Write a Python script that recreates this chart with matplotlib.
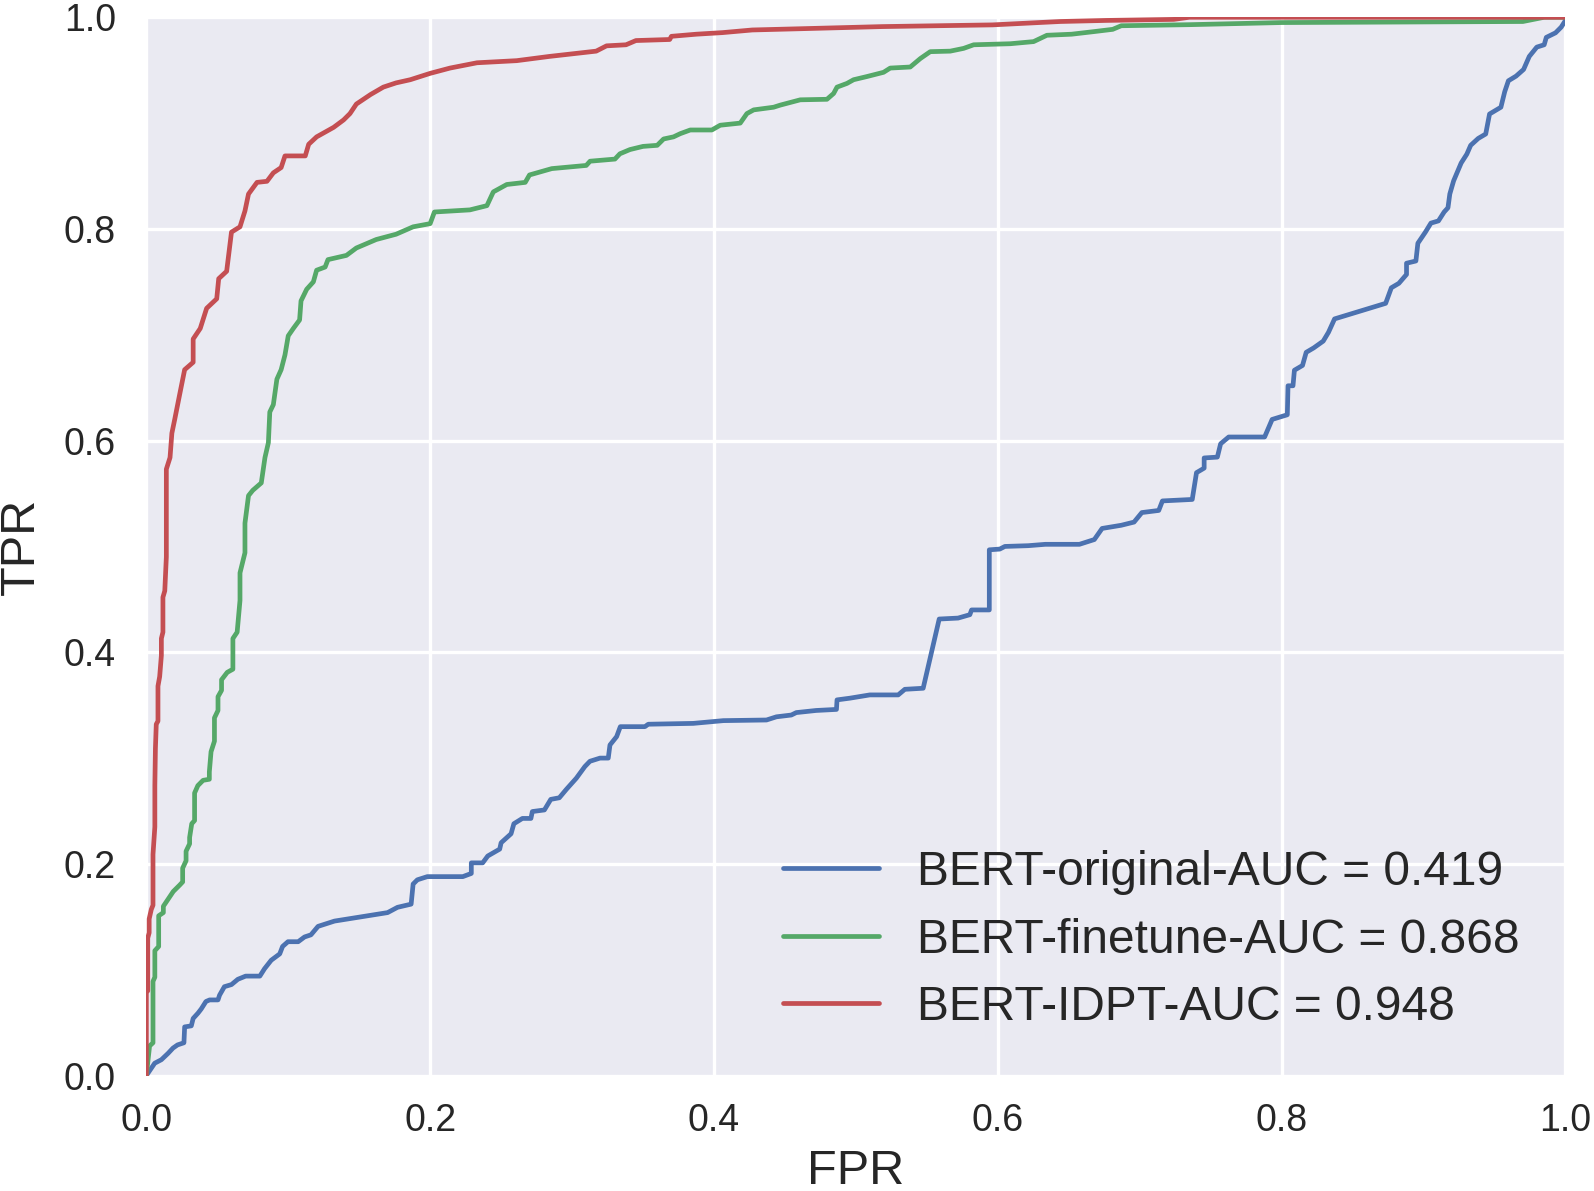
import matplotlib
matplotlib.use("Agg")
import matplotlib.pyplot as plt
import seaborn as sns

sns.set_style("darkgrid")
plt.rcParams['font.family'] = ['Liberation Sans', 'DejaVu Sans']

labels = ["BERT-original-AUC = 0.419", "BERT-finetune-AUC = 0.868", "BERT-IDPT-AUC = 0.948"]
colors = ["#4C72B0", "#55A868", "#C44E52"]

fpr_original = [0, 0.0059, 0.0106, 0.0153, 0.0188, 0.022, 0.0265, 0.027, 0.0317, 0.033, 0.0364, 0.0387, 0.042,
                0.0446, 0.0505, 0.0516, 0.055, 0.060, 0.0645, 0.070, 0.080, 0.0833, 0.088, 0.094, 0.096, 0.0998,
                0.107, 0.1115, 0.116, 0.121, 0.1256, 0.1326, 0.170, 0.177, 0.1866, 0.188, 0.191, 0.198, 0.223,
                0.229, 0.229, 0.237, 0.2406, 0.249, 0.25, 0.257, 0.259, 0.265, 0.271, 0.272, 0.2805, 0.285, 0.291,
                0.296, 0.303, 0.309, 0.3126, 0.3197, 0.3255, 0.3267, 0.3314, 0.334, 0.3513, 0.3537, 0.3854, 0.4066,
                0.437, 0.444, 0.4545, 0.458, 0.472, 0.4863, 0.4867, 0.4957, 0.5098, 0.5298, 0.5345, 0.5474, 0.5587,
                0.572, 0.5803, 0.5815, 0.594, 0.594, 0.6014, 0.605, 0.6214, 0.6335, 0.6575, 0.668, 0.6735, 0.687,
                0.696, 0.7015, 0.7134, 0.716, 0.737, 0.740, 0.7454, 0.7454, 0.7547, 0.757, 0.7627, 0.788, 0.7933,
                0.804, 0.8045, 0.808, 0.809, 0.8147, 0.8173, 0.8226, 0.8293, 0.833, 0.8373, 0.8733, 0.8773, 0.8826,
                0.888, 0.888, 0.8946, 0.896, 0.9013, 0.9052, 0.9105, 0.9145, 0.9172, 0.9185, 0.9212, 0.9239, 0.9265,
                0.9305, 0.9332, 0.9385, 0.9438, 0.9465, 0.9545, 0.9572, 0.9598, 0.9652, 0.9705, 0.9745, 0.9798,
                0.985, 0.9865, 0.993, 0.997, 1.0, 1.0]
tpr_original = [0, 0.0117, 0.015, 0.021, 0.026, 0.029, 0.031, 0.046, 0.047, 0.054, 0.059, 0.063, 0.070,
                0.0715, 0.0715, 0.076, 0.084, 0.086, 0.091, 0.094, 0.094, 0.101, 0.109, 0.115, 0.122, 0.1265,
                0.1265, 0.131, 0.133, 0.141, 0.143, 0.146, 0.154, 0.159, 0.162, 0.181, 0.185, 0.188, 0.188,
                0.191, 0.201, 0.201, 0.2075, 0.214, 0.22, 0.2285, 0.238, 0.243, 0.243, 0.2495, 0.251, 0.261, 0.2625,
                0.2705, 0.281, 0.292, 0.297, 0.300, 0.300, 0.3124, 0.3203, 0.3297, 0.3297, 0.332, 0.3328, 0.3354,
                0.336, 0.339, 0.3407, 0.343, 0.345, 0.346, 0.355, 0.3566, 0.3597, 0.3597, 0.365, 0.366, 0.4314,
                0.4323, 0.4355, 0.440, 0.440, 0.4968, 0.4975, 0.500, 0.5007, 0.502, 0.502, 0.5065, 0.517, 0.520,
                0.523, 0.532, 0.534, 0.543, 0.5444, 0.5697, 0.574, 0.5836, 0.5844, 0.597, 0.6034, 0.6034, 0.620,
                0.6244, 0.6518, 0.6518, 0.6665, 0.671, 0.6834, 0.6876, 0.694, 0.7023, 0.715, 0.7297, 0.7444, 0.7486,
                0.757, 0.7676, 0.7697, 0.7865, 0.797, 0.8055, 0.8076, 0.816, 0.820, 0.833, 0.8455, 0.854, 0.8623,
                0.8707, 0.879, 0.8855, 0.8897, 0.9086, 0.915, 0.9297, 0.940, 0.9444, 0.9507, 0.963, 0.9718,
                0.974, 0.981, 0.9853, 0.9907, 0.997, 1.0]

fpr_finetune = [0, 0.0023, 0.0047, 0.0047, 0.006, 0.006, 0.0087, 0.0087, 0.012, 0.012, 0.0155, 0.019, 0.0235,
                0.0256, 0.0256, 0.028, 0.028, 0.0305, 0.0305, 0.032, 0.034, 0.034, 0.0363, 0.040, 0.0444, 0.0444,
                0.0456, 0.048, 0.048, 0.0505, 0.0505, 0.053, 0.053, 0.057, 0.061, 0.061, 0.064, 0.066, 0.066,
                0.0695, 0.0695, 0.072, 0.075, 0.081, 0.0836, 0.086, 0.087, 0.0895, 0.092, 0.095, 0.0977, 0.100,
                0.1036, 0.108, 0.109, 0.113, 0.1177, 0.12, 0.126, 0.128, 0.141, 0.148, 0.162, 0.176, 0.188, 0.20,
                0.203, 0.228, 0.240, 0.2445, 0.254, 0.267, 0.270, 0.2857, 0.310, 0.3127, 0.3302, 0.3337, 0.3408,
                0.350, 0.360, 0.3645, 0.3715, 0.3762, 0.3833, 0.3985, 0.4044, 0.4185, 0.4232, 0.428, 0.442, 0.4467,
                0.4608, 0.4796, 0.4843, 0.4867, 0.4937, 0.4984, 0.5078, 0.5195, 0.5242, 0.5383, 0.5454, 0.5524,
                0.5665, 0.5759, 0.583, 0.6088, 0.6252, 0.6346, 0.652, 0.668, 0.681, 0.687, 0.735, 0.80, 0.97,
                0.985, 1.0]
tpr_finetune = [0, 0.028, 0.031, 0.089, 0.093, 0.118, 0.122, 0.151, 0.154, 0.160, 0.167, 0.174, 0.180,
                0.183, 0.196, 0.203, 0.212, 0.219, 0.225, 0.238, 0.241, 0.267, 0.274, 0.279, 0.280, 0.287,
                0.306, 0.316, 0.338, 0.345, 0.358, 0.364, 0.374, 0.381, 0.384, 0.413, 0.419, 0.449, 0.475,
                0.494, 0.522, 0.548, 0.553, 0.560, 0.584, 0.598, 0.627, 0.634, 0.658, 0.667, 0.681, 0.699,
                0.706, 0.714, 0.732, 0.743, 0.750, 0.761, 0.764, 0.771, 0.775, 0.782, 0.790, 0.795, 0.802, 0.805,
                0.816, 0.818, 0.822, 0.835, 0.842, 0.844, 0.851, 0.857, 0.860, 0.864, 0.866, 0.871, 0.875,
                0.878, 0.879, 0.885, 0.887, 0.890, 0.8935, 0.8935, 0.898, 0.900, 0.909, 0.9125, 0.915, 0.917,
                0.922, 0.9225, 0.928, 0.934, 0.9375, 0.941, 0.944, 0.948, 0.952, 0.953, 0.961, 0.9675,
                0.968, 0.9706, 0.974, 0.975, 0.977, 0.983, 0.984, 0.9865, 0.9886, 0.992, 0.993, 0.995, 0.996,
                1.0, 1.0]

fpr_idpt = [0, 0, 0.001, 0.001, 0.002, 0.002, 0.0035, 0.0047, 0.0047, 0.006, 0.006, 0.0064, 0.007, 0.0082,
            0.0082, 0.0094, 0.0106, 0.0106, 0.0117, 0.0117, 0.013, 0.0141, 0.0141, 0.0141, 0.0167, 0.018, 0.020,
            0.0237, 0.027, 0.033, 0.033, 0.038, 0.0425, 0.0496, 0.051, 0.0566, 0.060, 0.066, 0.0695, 0.072, 0.078,
            0.085, 0.0895, 0.095, 0.0977, 0.112, 0.1144, 0.12, 0.132, 0.139, 0.1435, 0.148, 0.158, 0.167, 0.176,
            0.186, 0.20, 0.214, 0.233, 0.261, 0.284, 0.317, 0.3243, 0.338, 0.345, 0.3688, 0.37, 0.3875, 0.406,
            0.427, 0.4647, 0.5187, 0.5962, 0.629, 0.644, 0.676, 0.724, 0.735, 1.0]
tpr_idpt = [0, 0.08, 0.08, 0.13, 0.135, 0.148, 0.157, 0.161, 0.209, 0.235, 0.274, 0.309, 0.332, 0.335,
            0.368, 0.377, 0.397, 0.413, 0.419, 0.452, 0.458, 0.49, 0.548, 0.573, 0.584, 0.607, 0.62,
            0.645, 0.667, 0.674, 0.696, 0.706, 0.725, 0.734, 0.753, 0.76, 0.797, 0.802, 0.817, 0.833, 0.844,
            0.845, 0.853, 0.858, 0.869, 0.869, 0.880, 0.887, 0.896, 0.903, 0.909, 0.918, 0.927, 0.934, 0.938,
            0.941, 0.947, 0.952, 0.957, 0.959, 0.963, 0.968, 0.973, 0.974, 0.978, 0.979, 0.982, 0.984, 0.9855,
            0.988, 0.9893, 0.9912, 0.9928, 0.995, 0.996, 0.997, 0.998, 1.0, 1.0]

xticks = [0.0, 0.2, 0.4, 0.6, 0.8, 1.0]
yticks = [0.0, 0.2, 0.4, 0.6, 0.8, 1.0]

fig = plt.figure(figsize=(15.94, 11.91), dpi=100)
ax = fig.add_axes([0.0918, 0.0969, 0.8903, 0.8886])
ax.set_facecolor("#EAEAF2")
for s in ax.spines.values():
    s.set_visible(False)
ax.grid(True, color="white", linewidth=2.4)
ax.set_axisbelow(True)

series = [(fpr_original, tpr_original), (fpr_finetune, tpr_finetune), (fpr_idpt, tpr_idpt)]
for (fx, ty), lab, c in zip(series, labels, colors):
    ax.plot(fx, ty, color=c, linewidth=3.4, label=lab, solid_capstyle="round", solid_joinstyle="round")

ax.set_xlim(0, 1)
ax.set_ylim(0, 1)
ax.set_xticks(xticks)
ax.set_yticks(yticks)
ax.set_xticklabels([f"{v:.1f}" for v in xticks])
ax.set_yticklabels([f"{v:.1f}" for v in yticks])
ax.tick_params(axis="both", length=0, labelsize=27, colors=".15")
ax.tick_params(axis="x", pad=20)
ax.tick_params(axis="y", pad=22)
ax.set_xlabel("FPR", fontsize=35, color=".15", labelpad=7)
ax.set_ylabel("TPR", fontsize=35, color=".15", labelpad=14)

leg = ax.legend(loc="lower right", frameon=False, fontsize=34.5, labelspacing=0.47,
                handlelength=2.0, handletextpad=0.8, borderaxespad=0.55)
for t in leg.get_texts():
    t.set_color(".15")

fig.savefig("out.png", dpi=100)
